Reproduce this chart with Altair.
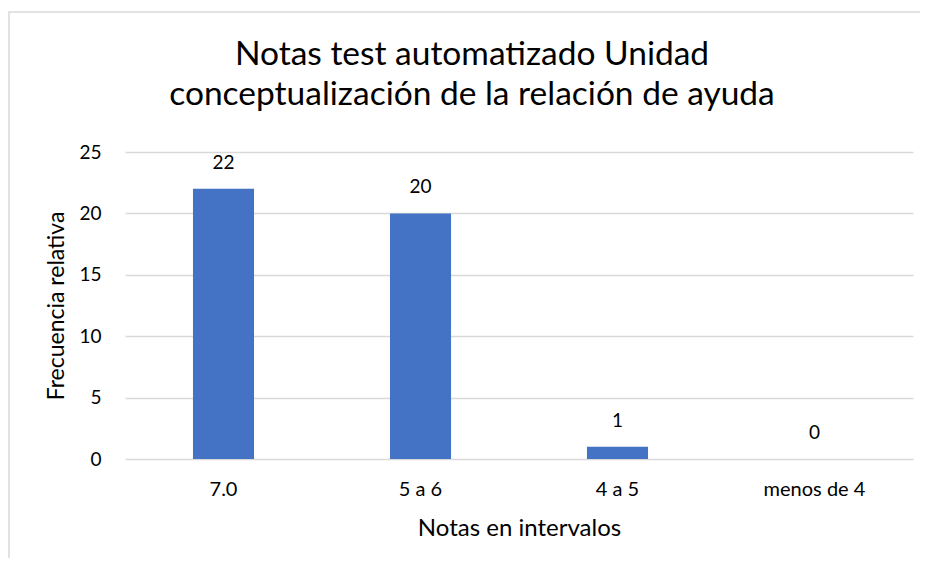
import altair as alt
import pandas as pd

categories = ["7.0", "5 a 6", "4 a 5", "menos de 4"]
values = [22, 20, 1, 0]
title_line1 = "Notas test automatizado Unidad"
title_line2 = "conceptualización de la relación de ayuda"

df = pd.DataFrame({"cat": categories, "val": values})

FONT = "Lato"
W, H = 788, 307

x_enc = alt.X("cat:N", sort=categories, title="Notas en intervalos",
              scale=alt.Scale(paddingInner=0.69, paddingOuter=0.345),
              axis=alt.Axis(labelAngle=0, ticks=False, domain=False, labelPadding=20,
                            labelFontSize=20, titleFontSize=24, titlePadding=17,
                            labelColor="#000000", titleColor="#000000",
                            labelFont=FONT, titleFont=FONT, titleFontWeight="normal"))
y_enc = alt.Y("val:Q", title="Frecuencia relativa",
              scale=alt.Scale(domain=[0, 25], nice=False),
              axis=alt.Axis(values=[0, 5, 10, 15, 20, 25], ticks=False, domain=False,
                            labelPadding=24, gridColor="#d9d9d9", gridWidth=1.5,
                            labelFontSize=19, titleFontSize=23, titlePadding=10,
                            labelColor="#000000", titleColor="#000000",
                            labelFont=FONT, titleFont=FONT, titleFontWeight="normal"))

frame = alt.Chart(pd.DataFrame({"a": [0]})).mark_rect(
    fill="transparent", stroke="#d9d9d9", strokeWidth=1.5, clip=False
).encode(x=alt.value(-116), x2=alt.value(W + 300), y=alt.value(-140), y2=alt.value(H + 300))


def title_text(line, ypos):
    return alt.Chart(pd.DataFrame({"line": [line]})).mark_text(
        font=FONT, fontSize=33.5, color="#000000", baseline="alphabetic",
        align="center", clip=False
    ).encode(x=alt.value(W / 2 - 47), y=alt.value(ypos), text="line:N")


t1 = title_text(title_line1, -87)
t2 = title_text(title_line2, -47)

bars = alt.Chart(df).mark_bar(color="#4472C4").encode(x=x_enc, y=y_enc)
labels = alt.Chart(df).mark_text(baseline="bottom", dy=-16, fontSize=19, font=FONT,
                                 color="#000000").encode(
    x=alt.X("cat:N", sort=categories), y="val:Q", text="val:Q")

chart = alt.layer(frame, t1, t2, bars, labels).properties(
    width=W, height=H,
    autosize=alt.AutoSizeParams(type="none"),
    padding={"left": 117, "top": 144, "right": 7, "bottom": 99},
).configure_view(stroke=None)

chart.save("out.html", embed_options={"renderer": "svg", "actions": False})
